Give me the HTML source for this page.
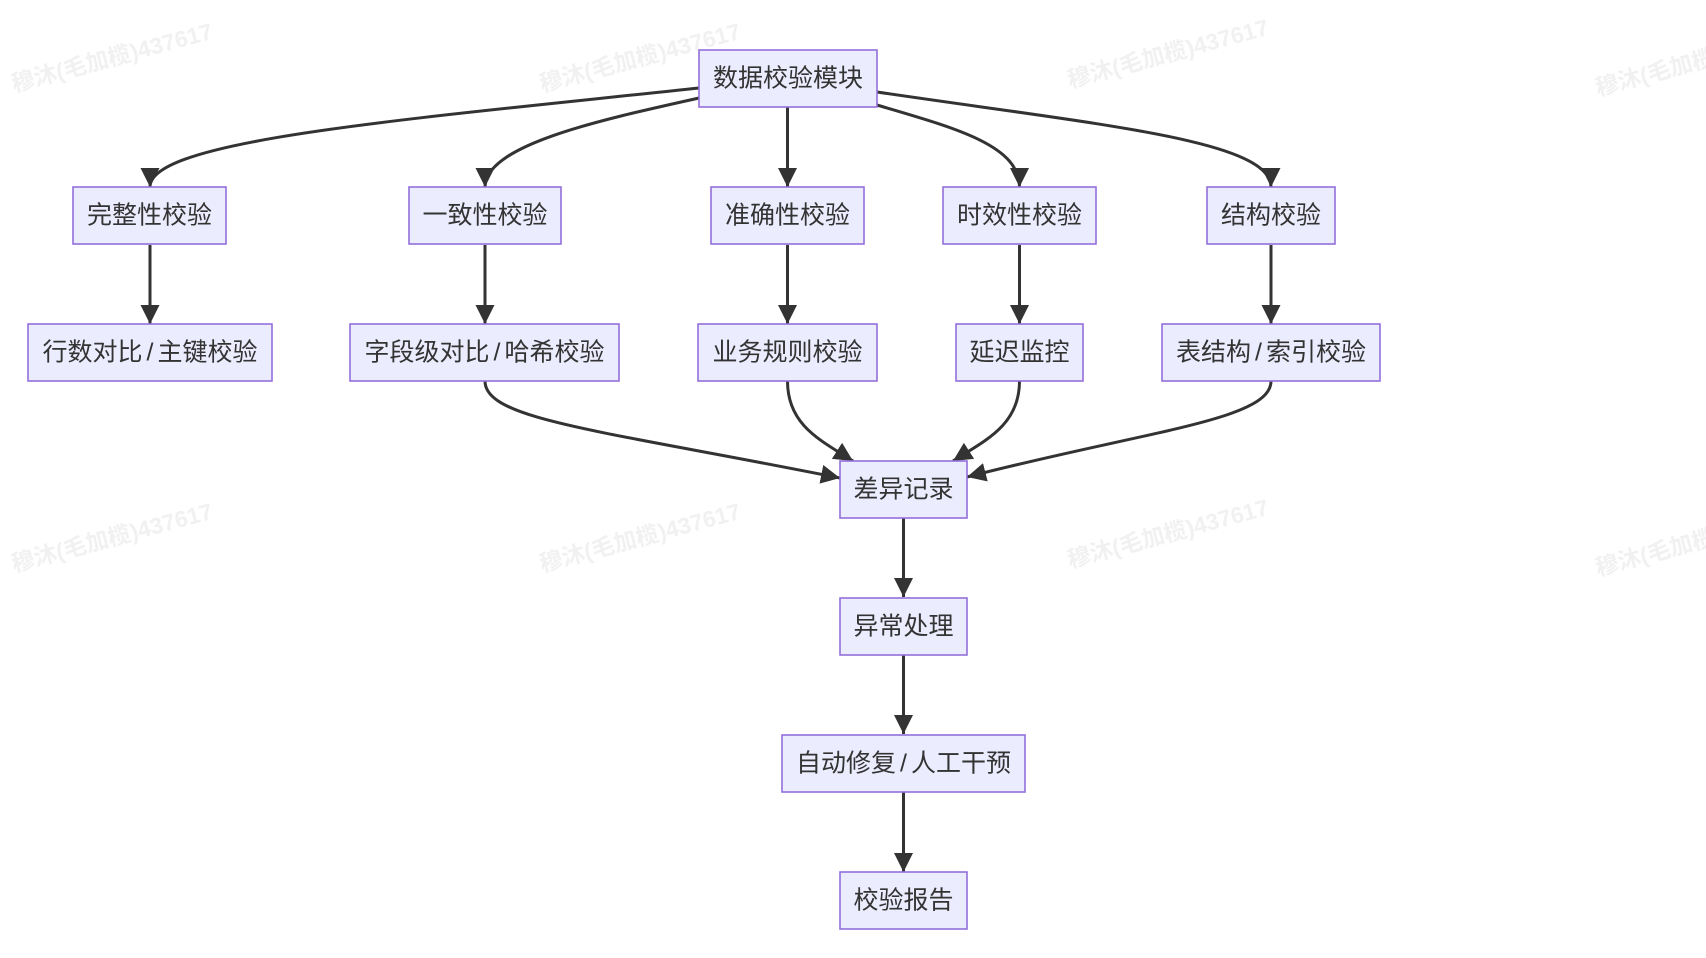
<!DOCTYPE html>
<html>
<head>
<meta charset="utf-8">
<style>
  html, body { margin:0; padding:0; background:#ffffff; }
  body { width:1706px; height:958px; overflow:hidden; }
  svg { display:block; }
  .wm { font-family:"Liberation Sans","Noto Sans CJK SC",sans-serif; font-size:23px; font-weight:bold; fill:#f1f1f1; }
  .node rect { fill:#ECECFF; stroke:#9370DB; stroke-width:1.6; }
  .node text { font-family:"Liberation Sans","Noto Sans CJK SC",sans-serif; font-size:25px; fill:#333333; text-anchor:middle; dominant-baseline:central; }
  .edge { fill:none; stroke:#333333; stroke-width:3; }
</style>
</head>
<body>
<svg width="1706" height="958" viewBox="0 0 1706 958" xmlns="http://www.w3.org/2000/svg">
  <defs>
    <marker id="arr" viewBox="0 0 10 10" refX="10" refY="5" markerUnits="userSpaceOnUse" markerWidth="19" markerHeight="19" orient="auto">
      <path d="M0,0 L10,5 L0,10 z" fill="#333333"/>
    </marker>
  </defs>

  <!-- watermarks -->
  <g>
    <text class="wm" transform="translate(14,92) rotate(-15)">穆沐(毛加榄)437617</text>
    <text class="wm" transform="translate(542,92) rotate(-15)">穆沐(毛加榄)437617</text>
    <text class="wm" transform="translate(1070,88) rotate(-15)">穆沐(毛加榄)437617</text>
    <text class="wm" transform="translate(1598,96) rotate(-15)">穆沐(毛加榄)437617</text>
    <text class="wm" transform="translate(14,572) rotate(-15)">穆沐(毛加榄)437617</text>
    <text class="wm" transform="translate(542,572) rotate(-15)">穆沐(毛加榄)437617</text>
    <text class="wm" transform="translate(1070,568) rotate(-15)">穆沐(毛加榄)437617</text>
    <text class="wm" transform="translate(1598,576) rotate(-15)">穆沐(毛加榄)437617</text>
  </g>

  <!-- edges -->
  <path class="edge" marker-end="url(#arr)" d="M699,88 C400,120 150,140 150,187"/>
  <path class="edge" marker-end="url(#arr)" d="M699,98 C600,120 485,145 485,187"/>
  <path class="edge" marker-end="url(#arr)" d="M787.5,107 L787.5,187"/>
  <path class="edge" marker-end="url(#arr)" d="M877,105 C955,128 1019.5,145 1019.5,187"/>
  <path class="edge" marker-end="url(#arr)" d="M877,92 C1100,125 1271,140 1271,187"/>

  <path class="edge" marker-end="url(#arr)" d="M150,245 L150,324"/>
  <path class="edge" marker-end="url(#arr)" d="M485,245 L485,324"/>
  <path class="edge" marker-end="url(#arr)" d="M787.5,245 L787.5,324"/>
  <path class="edge" marker-end="url(#arr)" d="M1019.5,245 L1019.5,324"/>
  <path class="edge" marker-end="url(#arr)" d="M1271,245 L1271,324"/>

  <path class="edge" marker-end="url(#arr)" d="M485,381 C485,420 600,430 840,478"/>
  <path class="edge" marker-end="url(#arr)" d="M787.5,381 C787.5,425 820,440 853,461"/>
  <path class="edge" marker-end="url(#arr)" d="M1019.5,381 C1019.5,425 986,440 953,461"/>
  <path class="edge" marker-end="url(#arr)" d="M1271,381 C1271,420 1150,430 967,477"/>

  <path class="edge" marker-end="url(#arr)" d="M903.5,518 L903.5,597"/>
  <path class="edge" marker-end="url(#arr)" d="M903.5,655 L903.5,734"/>
  <path class="edge" marker-end="url(#arr)" d="M903.5,792 L903.5,872"/>

  <!-- nodes -->
  <g class="node"><rect x="699" y="50" width="178" height="57"/><text x="788" y="78.5">数据校验模块</text></g>

  <g class="node"><rect x="73" y="187" width="153" height="57"/><text x="149.5" y="215.5">完整性校验</text></g>
  <g class="node"><rect x="409" y="187" width="152" height="57"/><text x="485" y="215.5">一致性校验</text></g>
  <g class="node"><rect x="711" y="187" width="153" height="57"/><text x="787.5" y="215.5">准确性校验</text></g>
  <g class="node"><rect x="943" y="187" width="153" height="57"/><text x="1019.5" y="215.5">时效性校验</text></g>
  <g class="node"><rect x="1207" y="187" width="128" height="57"/><text x="1271" y="215.5">结构校验</text></g>

  <g class="node"><rect x="28" y="324" width="244" height="57"/><text x="150" y="352.5">行数对比<tspan dx="4">/</tspan><tspan dx="4">主键校验</tspan></text></g>
  <g class="node"><rect x="350" y="324" width="269" height="57"/><text x="484.5" y="352.5">字段级对比<tspan dx="4">/</tspan><tspan dx="4">哈希校验</tspan></text></g>
  <g class="node"><rect x="698" y="324" width="179" height="57"/><text x="787.5" y="352.5">业务规则校验</text></g>
  <g class="node"><rect x="956" y="324" width="127" height="57"/><text x="1019.5" y="352.5">延迟监控</text></g>
  <g class="node"><rect x="1162" y="324" width="218" height="57"/><text x="1271" y="352.5">表结构<tspan dx="4">/</tspan><tspan dx="4">索引校验</tspan></text></g>

  <g class="node"><rect x="840" y="461" width="127" height="57"/><text x="903.5" y="489.5">差异记录</text></g>
  <g class="node"><rect x="840" y="598" width="127" height="57"/><text x="903.5" y="626.5">异常处理</text></g>
  <g class="node"><rect x="782" y="735" width="243" height="57"/><text x="903.5" y="763.5">自动修复<tspan dx="4">/</tspan><tspan dx="4">人工干预</tspan></text></g>
  <g class="node"><rect x="840" y="872" width="127" height="57"/><text x="903.5" y="900.5">校验报告</text></g>
</svg>
</body>
</html>
